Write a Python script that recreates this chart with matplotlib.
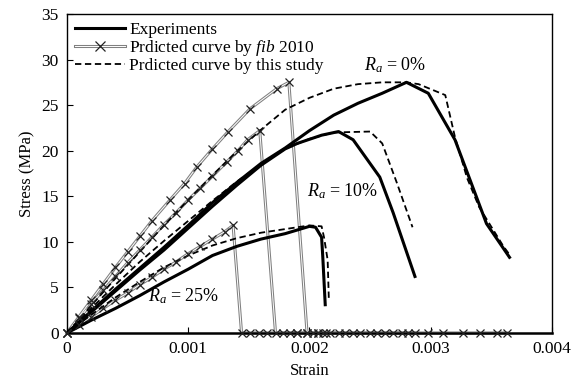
import matplotlib.pyplot as plt
from matplotlib.legend_handler import HandlerTuple

plt.rcParams['font.family'] = ['Liberation Serif', 'DejaVu Serif']
plt.rcParams['mathtext.fontset'] = 'custom'
plt.rcParams['mathtext.it'] = 'Liberation Serif:italic'
plt.rcParams['mathtext.rm'] = 'Liberation Serif'

# experiments
exp0_x = [0, 0.0002, 0.0004, 0.0006, 0.0008, 0.001, 0.0012, 0.0014, 0.0016, 0.0018, 0.002,
          0.0022, 0.0024, 0.0026, 0.0028, 0.00298, 0.0032, 0.00346, 0.00365]
exp0_y = [0, 2.4, 4.8, 7.1, 9.4, 11.8, 14.3, 16.5, 18.6, 20.3, 22.2,
          23.9, 25.2, 26.3, 27.5, 26.3, 21.2, 12.0, 8.3]
exp10_x = [0, 0.0002, 0.0004, 0.0006, 0.0008, 0.001, 0.0012, 0.0014, 0.0016, 0.0018, 0.0019,
           0.0021, 0.00224, 0.00236, 0.00258, 0.00269, 0.00287]
exp10_y = [0, 2.3, 4.6, 6.9, 9.1, 11.5, 13.9, 16.2, 18.4, 20.2, 20.8,
           21.7, 22.1, 21.2, 17.1, 13.2, 6.2]
exp25_x = [0, 0.0002, 0.0004, 0.0006, 0.0008, 0.001, 0.0012, 0.0014, 0.0016, 0.0018, 0.002,
           0.00205, 0.0021, 0.00211, 0.00213]
exp25_y = [0, 1.4, 2.7, 4.1, 5.6, 7.0, 8.5, 9.5, 10.3, 10.9, 11.7,
           11.6, 10.5, 8.3, 3.1]

# this study
st0_x = [0, 0.0002, 0.0004, 0.0006, 0.0008, 0.001, 0.0012, 0.0014, 0.0016, 0.0018, 0.002,
         0.0022, 0.0024, 0.0026, 0.0028, 0.0029, 0.00312, 0.0032, 0.0033, 0.0034, 0.0036, 0.00365]
st0_y = [0, 3.0, 6.0, 8.9, 11.8, 14.6, 17.3, 19.9, 22.3, 24.5, 25.8,
         26.8, 27.3, 27.5, 27.5, 27.3, 26.1, 21.5, 17.0, 13.8, 9.5, 8.6]
st10_x = [0, 0.0002, 0.0004, 0.0006, 0.0008, 0.001, 0.0012, 0.0014, 0.0016, 0.0018, 0.002,
          0.0022, 0.0025, 0.0026, 0.00272, 0.00285]
st10_y = [0, 2.7, 5.3, 7.8, 10.1, 12.3, 14.5, 16.6, 18.5, 20.2, 21.3,
          22.0, 22.1, 20.8, 16.5, 11.6]
st25_x = [0, 0.0002, 0.0004, 0.0006, 0.0008, 0.001, 0.0012, 0.0014, 0.0016, 0.0018, 0.002,
          0.0021, 0.00212, 0.00215, 0.00216]
st25_y = [0, 2.0, 3.9, 5.6, 7.2, 8.5, 9.6, 10.4, 11.0, 11.4, 11.8,
          11.7, 10.5, 8.0, 3.6]

# fib 2010
fib0_x = [0, 0.0001, 0.0002, 0.0003, 0.0004, 0.0005, 0.0006, 0.0007, 0.00085, 0.00097, 0.00107,
          0.0012, 0.00133, 0.00151, 0.00173, 0.00183,
          0.00198, 0.00207, 0.00217, 0.00229, 0.00242, 0.00256, 0.00269, 0.00281, 0.00298,
          0.0031, 0.00327, 0.00341, 0.00355, 0.00363]
fib0_y = [0, 1.8, 3.6, 5.4, 7.2, 8.9, 10.6, 12.3, 14.6, 16.4, 18.2,
          20.2, 22.1, 24.6, 26.8, 27.5,
          0, 0, 0, 0, 0, 0, 0, 0, 0, 0, 0, 0, 0, 0]
fib10_x = [0, 0.0001, 0.0002, 0.0003, 0.0004, 0.0005, 0.0006, 0.0007, 0.0008, 0.0009, 0.001,
           0.0011, 0.0012, 0.00132, 0.00141, 0.00149, 0.00159,
           0.00172, 0.00184, 0.0019, 0.00203, 0.00214, 0.00224, 0.00236, 0.0025, 0.00262,
           0.00276, 0.00287]
fib10_y = [0, 1.6, 3.2, 4.7, 6.2, 7.7, 9.1, 10.5, 11.9, 13.2, 14.6,
           15.9, 17.2, 18.8, 20.0, 21.2, 22.2,
           0, 0, 0, 0, 0, 0, 0, 0, 0, 0, 0]
fib25_x = [0, 0.0001, 0.0002, 0.0003, 0.0004, 0.0005, 0.0006, 0.0007, 0.0008, 0.0009, 0.001,
           0.0011, 0.0012, 0.0013, 0.00137,
           0.00144, 0.00151, 0.00158, 0.00165, 0.00178, 0.00190, 0.00198, 0.00207, 0.00211]
fib25_y = [0, 0.9, 1.8, 2.7, 3.6, 4.4, 5.3, 6.1, 7.0, 7.8, 8.7,
           9.5, 10.3, 11.1, 11.8,
           0, 0, 0, 0, 0, 0, 0, 0, 0]

fig = plt.figure(figsize=(5.81, 3.88), dpi=100)
ax = fig.add_axes([0.1153, 0.1418, 0.8347, 0.8222])

# fib curves: grey double line with x markers
for xs, ys in [(fib0_x, fib0_y), (fib10_x, fib10_y), (fib25_x, fib25_y)]:
    ax.plot(xs, ys, color='#808080', lw=2.2, zorder=2, clip_on=False)
    ax.plot(xs, ys, color='white', lw=0.7, zorder=2.1, clip_on=False)
    ax.plot(xs, ys, ls='none', marker='x', ms=6, mec='#222222', mew=0.9,
            zorder=6, clip_on=False)

for xs, ys in [(st0_x, st0_y), (st10_x, st10_y), (st25_x, st25_y)]:
    ax.plot(xs, ys, color='black', lw=1.3, ls=(0, (3.5, 2)), zorder=4)

for xs, ys in [(exp0_x, exp0_y), (exp10_x, exp10_y), (exp25_x, exp25_y)]:
    ax.plot(xs, ys, color='black', lw=2.2, zorder=5)

ax.set_xlim(0, 0.004)
ax.set_ylim(0, 35)
ax.set_xticks([0, 0.001, 0.002, 0.003, 0.004])
ax.set_xticklabels(['0', '0.001', '0.002', '0.003', '0.004'])
ax.set_yticks(range(0, 36, 5))
ax.tick_params(direction='in', length=4, width=0.8, labelsize=12.5, pad=6)
for s in ax.spines.values():
    s.set_linewidth(1.0)
ax.spines['bottom'].set_linewidth(1.8)
ax.spines['bottom'].set_zorder(3)
ax.set_xlabel('Strain', fontsize=12)
ax.set_ylabel('Stress (MPa)', fontsize=12)

ax.text(0.00271, 29.4, '$R_a$ = 0%', fontsize=13, ha='center', va='center')
ax.text(0.00227, 15.6, '$R_a$ = 10%', fontsize=13, ha='center', va='center')
ax.text(0.00096, 4.0, '$R_a$ = 25%', fontsize=13, ha='center', va='center')

h_exp, = ax.plot([], [], color='black', lw=2.2)
h_fo, = ax.plot([], [], color='#808080', lw=2.2)
h_fi, = ax.plot([], [], color='white', lw=0.7, marker='x', ms=7, mec='#222222', mew=0.9)
h_st, = ax.plot([], [], color='black', lw=1.3, ls=(0, (3.5, 2)))
ax.legend([h_exp, (h_fo, h_fi), h_st],
          ['Experiments', 'Prdicted curve by $fib$ 2010', 'Prdicted curve by this study'],
          handler_map={tuple: HandlerTuple(ndivide=1)},
          loc='upper left', frameon=False, fontsize=12.5, handlelength=2.9,
          handletextpad=0.25, labelspacing=0.0, borderaxespad=0.2, borderpad=0.25)

fig.savefig('out.png', dpi=100)
